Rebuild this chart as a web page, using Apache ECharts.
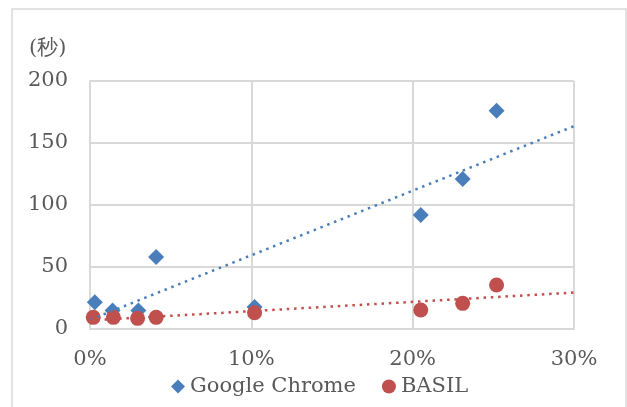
<!DOCTYPE html>
<html>
<head>
<meta charset="utf-8">
<script src="https://cdn.jsdelivr.net/npm/echarts@6/dist/echarts.min.js"></script>
<style>html,body{margin:0;padding:0;background:#fff}#c{width:627px;height:407px}</style>
</head>
<body>
<div id="c"></div>
<script>
// Data (x in %, y in seconds)
const chromeX = [0.3, 1.4, 3.0, 4.1, 10.2, 20.5, 23.1, 25.2];
const chromeY = [21.5, 15, 15, 58, 17.7, 92, 121, 176];
const basilX  = [0.2, 1.45, 2.95, 4.1, 10.2, 20.5, 23.1, 25.2];
const basilY  = [9.4, 9.4, 8.6, 9.4, 13.1, 15.3, 20.7, 35.5];
// Trendline end points
const trendX = [0, 30];
const chromeTrend = [7.4, 163.6];
const basilTrend = [6.9, 29.4];
const xTicks = [0, 10, 20, 30];
const yTicks = [0, 50, 100, 150, 200];
const seriesNames = ['Google Chrome', 'BASIL'];
const yUnit = '(秒)';

const FONT = 'DejaVu Serif';
const TXT = '#595959';
const BLUE = '#4A7EBB';
const RED = '#C0504D';
const GRID = '#D9D9D9';

const zip = (a, b) => a.map((v, i) => [v, b[i]]);

const chart = echarts.init(document.getElementById('c'), null, {renderer: 'canvas'});
chart.setOption({
  animation: false,
  backgroundColor: '#fff',
  textStyle: {fontFamily: FONT},
  graphic: [
    {type: 'rect', shape: {x: 12, y: 9, width: 614, height: 420}, style: {fill: 'none', stroke: GRID, lineWidth: 1.5}, silent: true, z: -10},
    {type: 'text', left: 29, top: 38, style: {text: yUnit, fontFamily: FONT, fontSize: 21, fill: TXT}}
  ],
  grid: {left: 90, right: 53, top: 81, bottom: 78, containLabel: false},
  legend: {
    data: [
      {name: seriesNames[0], icon: 'diamond'},
      {name: seriesNames[1], icon: 'circle'}
    ],
    left: 171, top: 376, padding: 0,
    itemWidth: 14, itemHeight: 14, itemGap: 26,
    textStyle: {fontFamily: FONT, fontSize: 21, color: TXT}
  },
  xAxis: {
    type: 'value', min: xTicks[0], max: xTicks[xTicks.length - 1], interval: 10,
    axisLine: {show: true, lineStyle: {color: GRID, width: 2}},
    axisTick: {show: false},
    splitLine: {show: true, lineStyle: {color: GRID, width: 2}},
    axisLabel: {formatter: v => v + '%', fontFamily: FONT, fontSize: 21, color: TXT, margin: 20}
  },
  yAxis: {
    type: 'value', min: yTicks[0], max: yTicks[yTicks.length - 1], interval: 50,
    axisLine: {show: true, lineStyle: {color: GRID, width: 2}},
    axisTick: {show: false},
    splitLine: {show: true, lineStyle: {color: GRID, width: 2}},
    axisLabel: {fontFamily: FONT, fontSize: 21, color: TXT, margin: 22}
  },
  series: [
    {
      name: seriesNames[0], type: 'scatter', symbol: 'diamond', symbolSize: 16,
      itemStyle: {color: BLUE, opacity: 1}, data: zip(chromeX, chromeY), z: 2
    },
    {
      name: seriesNames[1], type: 'scatter', symbol: 'circle', symbolSize: 15,
      itemStyle: {color: RED, opacity: 1}, data: zip(basilX, basilY), z: 3
    },
    {
      name: 'chromeTrend', type: 'line', showSymbol: false, symbol: 'none',
      data: zip(trendX, chromeTrend), z: 4,
      lineStyle: {color: BLUE, width: 2.5, type: [2.5, 4.8], cap: 'butt'}
    },
    {
      name: 'basilTrend', type: 'line', showSymbol: false, symbol: 'none',
      data: zip(trendX, basilTrend), z: 4,
      lineStyle: {color: RED, width: 2.5, type: [2.5, 4.8], cap: 'butt'}
    }
  ]
});
</script>
</body>
</html>
